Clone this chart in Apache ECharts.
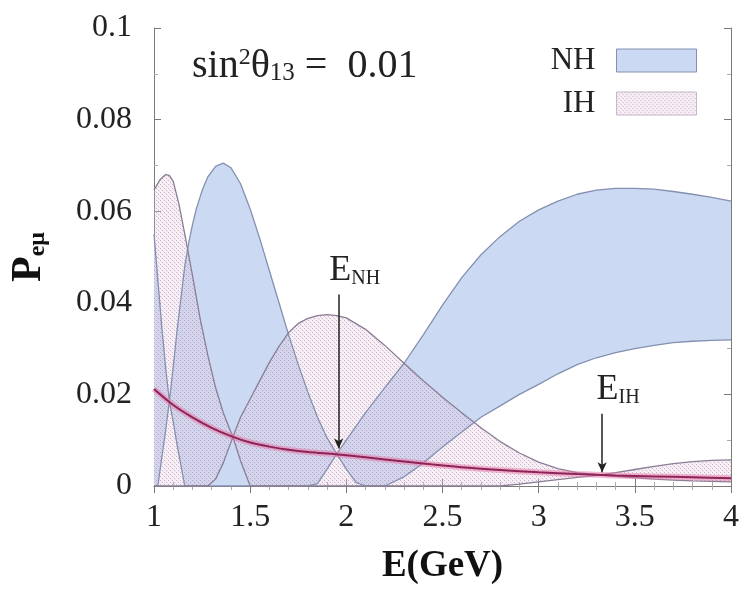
<!DOCTYPE html>
<html><head><meta charset="utf-8">
<script src="https://cdn.jsdelivr.net/npm/echarts@6/dist/echarts.min.js"></script>
<style>html,body{margin:0;padding:0;background:#fff}#c{width:743px;height:592px}</style>
</head><body><div id="c"></div>
<script>
// ---- data ----
const xTicks = ['1','1.5','2','2.5','3','3.5','4'];
const yTicks = ['0','0.02','0.04','0.06','0.08','0.1'];

const E_NH = [1.00,1.02,1.04,1.06,1.08,1.10,1.12,1.14,1.16,1.18,1.20,1.22,1.25,1.28,1.32,1.36,1.40,
  1.45,1.50,1.55,1.60,1.65,1.70,1.75,1.80,1.85,1.90,1.95,2.00,2.05,2.10,
  2.20,2.30,2.40,2.50,2.60,2.70,2.80,2.90,3.00,3.10,3.20,3.30,3.40,3.50,3.60,3.70,3.80,3.90,4.00];
const NH_hi = [0.055,0.045,0.035,0.026,0.0185,0.026,0.034,0.041,0.048,0.053,0.057,0.0605,0.0645,0.0675,0.0698,0.0705,0.0695,
  0.066,0.0605,0.054,0.047,0.040,0.033,0.0265,0.0205,0.0150,0.0105,0.0070,0.0100,0.0130,0.0160,
  0.0215,0.0268,0.0330,0.0395,0.0455,0.0505,0.0545,0.0578,0.0603,0.0622,0.0637,0.0646,0.0650,0.0650,0.0648,0.0643,0.0637,0.0630,0.0622];
const NH_lo = [0,0,0.006,0.012,0.0185,0.014,0.009,0.0045,0,0,0,0,0,0,0,0,0,
  0,0,0,0,0,0,0,0,0.0005,0.0037,0.0070,0.0037,0.0008,0,
  0,0.002,0.005,0.0085,0.0118,0.0150,0.0175,0.0200,0.0222,0.0245,0.0265,0.0280,0.0291,0.0300,0.0307,0.0313,0.0316,0.0318,0.0319];

const E_IH = [1.00,1.03,1.06,1.08,1.10,1.13,1.16,1.20,1.24,1.28,1.32,1.36,1.41,
  1.45,1.50,1.55,1.60,1.65,1.70,1.75,1.80,1.85,1.90,1.95,2.00,
  2.10,2.20,2.30,2.40,2.50,2.60,2.70,2.80,2.90,3.00,3.10,3.20,3.32,3.40,3.50,3.60,3.70,3.80,3.90,4.00];
const IH_hi = [0.0646,0.0668,0.0680,0.0678,0.0665,0.0615,0.0550,0.0460,0.0365,0.0285,0.0215,0.0160,0.0107,
  0.0150,0.0190,0.0230,0.0270,0.0305,0.0335,0.0355,0.0366,0.0372,0.0374,0.0372,0.0367,
  0.0342,0.0307,0.0268,0.0230,0.0194,0.0160,0.0127,0.0097,0.0072,0.0052,0.0038,0.0029,0.0024,0.0029,0.0036,0.0043,0.0049,0.0053,0.0056,0.0057];
const IH_lo = [0,0,0,0,0,0,0,0,0,0,0.0015,0.0050,0.0107,
  0.0055,0,0,0,0,0,0,0,0,0,0,0,
  0,0,0,0,0,0,0,0,0.0004,0.0009,0.0014,0.0019,0.0024,0.0021,0.0018,0.0015,0.0013,0.0011,0.0010,0.0009];

const E_red = [1.0,1.1,1.2,1.3,1.4,1.5,1.6,1.7,1.8,1.9,2.0,2.2,2.4,2.6,2.8,3.0,3.2,3.4,3.6,3.8,4.0];
const P_red = [0.0212,0.0177,0.0150,0.0127,0.0109,0.0095,0.0086,0.0079,0.0074,0.0071,0.0067,0.0058,0.0049,0.0041,0.0035,0.0030,0.0026,0.0023,0.0021,0.0019,0.0017];

// arrows (E, from P, to P)
const arrowNH = [1.96, 0.0418, 0.0082];
const arrowIH = [3.33, 0.0158, 0.0030];

// ---- styling ----
const serif = '"Liberation Serif","DejaVu Serif",serif';
const blueFill = '#cbdaf2';
const blueLine = '#8490b0';
const pinkLine = '#8a7d96';
function makePattern(){
  const c = document.createElement('canvas'); c.width = 4; c.height = 4;
  const g = c.getContext('2d');
  g.fillStyle = 'rgba(236,206,226,0.30)'; g.fillRect(0,0,4,4);
  g.fillStyle = 'rgba(150,118,165,0.50)'; g.fillRect(0,0,1,1); g.fillRect(2,2,1,1);
  g.fillStyle = 'rgba(200,170,200,0.25)'; g.fillRect(1,1,1,1); g.fillRect(3,3,1,1);
  return {image: c, repeat: 'repeat'};
}
const pinkPattern = makePattern();

function bandRender(E, lo, hi, fill){
  return function(params, api){
    if (params.dataIndex !== 0) return null;
    const pts = [];
    for (let i = 0; i < E.length; i++) pts.push(api.coord([E[i], hi[i]]));
    for (let i = E.length - 1; i >= 0; i--) pts.push(api.coord([E[i], lo[i]]));
    return {type:'polygon', shape:{points: pts}, style:{fill: fill, stroke: null}};
  };
}
const zip = (a, b) => a.map((v, i) => [v, b[i]]);
const lineSeries = (name, E, P, color, w, z) => ({
  name, type:'line', data: zip(E, P), symbol:'none', silent:true,
  lineStyle:{color, width:w}, z
});

const axisCol = '#7a7a7a';
const chart = echarts.init(document.getElementById('c'), null, {renderer:'canvas'});
chart.setOption({
  animation:false,
  grid:{left:153, right:12, top:28, bottom:106, containLabel:false},
  xAxis:[{
    type:'value', min:1, max:4, interval:0.5, position:'bottom',
    axisLine:{show:true, lineStyle:{color:axisCol}},
    axisTick:{show:true, inside:true, length:7, lineStyle:{color:axisCol}},
    minorTick:{show:true, splitNumber:5, length:4, lineStyle:{color:'#aaa'}},
    splitLine:{show:false},
    axisLabel:{color:'#222', fontFamily:serif, fontSize:32, margin:16,
      formatter: v => xTicks[Math.round((v - 1) / 0.5)]},
    name:'E(GeV)', nameLocation:'middle', nameGap:62,
    nameTextStyle:{fontFamily:serif, fontWeight:'bold', fontSize:37, color:'#111'}
  },{
    type:'value', min:1, max:4, interval:0.5, position:'top',
    axisLine:{show:true, lineStyle:{color:axisCol}},
    axisTick:{show:true, inside:true, length:7, lineStyle:{color:axisCol}},
    minorTick:{show:true, splitNumber:5, length:4, lineStyle:{color:'#aaa'}},
    splitLine:{show:false}, axisLabel:{show:false}
  }],
  yAxis:[{
    type:'value', min:0, max:0.1, interval:0.02, position:'left',
    axisLine:{show:true, lineStyle:{color:axisCol}},
    axisTick:{show:true, inside:true, length:7, lineStyle:{color:axisCol}},
    minorTick:{show:true, splitNumber:2, length:4, lineStyle:{color:'#aaa'}},
    splitLine:{show:false},
    axisLabel:{color:'#222', fontFamily:serif, fontSize:32, margin:22,
      formatter: v => yTicks[Math.round(v / 0.02)]},
    name:'{p|P}{s|eμ}', nameLocation:'middle', nameGap:104,
    nameTextStyle:{rich:{
      p:{fontFamily:serif, fontWeight:'bold', fontSize:42, color:'#111'},
      s:{fontFamily:serif, fontWeight:'bold', fontSize:24, color:'#111', verticalAlign:'bottom'}
    }}
  },{
    type:'value', min:0, max:0.1, interval:0.02, position:'right',
    axisLine:{show:true, lineStyle:{color:axisCol}},
    axisTick:{show:true, inside:true, length:7, lineStyle:{color:axisCol}},
    minorTick:{show:true, splitNumber:2, length:4, lineStyle:{color:'#aaa'}},
    splitLine:{show:false}, axisLabel:{show:false}
  }],
  legend:{
    orient:'vertical', right:46, top:45, itemWidth:80, itemHeight:23, itemGap:12,
    align:'right', padding:0, selectedMode:false,
    textStyle:{fontFamily:serif, fontSize:31, color:'#222', padding:[0,16,0,0]},
    data:[
      {name:'NH', icon:'rect', itemStyle:{color:blueFill, borderColor:blueLine, borderWidth:1}},
      {name:'IH', icon:'rect', itemStyle:{color:pinkPattern, borderColor:'#c7b8c8', borderWidth:1}}
    ]
  },
  graphic:[{
    type:'text', left:192, top:46, silent:true,
    style:{
      text:'{a|sin}{p|2}{a|θ}{b|13}{a| =  0.01}',
      rich:{
        a:{fontFamily:serif, fontSize:40, fill:'#222'},
        p:{fontFamily:serif, fontSize:24, fill:'#222', verticalAlign:'top'},
        b:{fontFamily:serif, fontSize:25, fill:'#222', verticalAlign:'bottom'}
      }
    }
  }],
  series:[
    {name:'NH', type:'custom', silent:true, z:1,
     data: E_NH.map((e, i) => [e, NH_lo[i], NH_hi[i]]), encode:{x:0, y:[1,2]},
     itemStyle:{color:blueFill},
     renderItem: bandRender(E_NH, NH_lo, NH_hi, blueFill)},
    {name:'IH', type:'custom', silent:true, z:2,
     data: E_IH.map((e, i) => [e, IH_lo[i], IH_hi[i]]), encode:{x:0, y:[1,2]},
     itemStyle:{color:pinkPattern},
     renderItem: bandRender(E_IH, IH_lo, IH_hi, pinkPattern)},
    lineSeries('NH upper', E_NH, NH_hi, blueLine, 1.3, 3),
    lineSeries('NH lower', E_NH, NH_lo, blueLine, 1.3, 3),
    lineSeries('IH upper', E_IH, IH_hi, pinkLine, 1.3, 3),
    lineSeries('IH lower', E_IH, IH_lo, pinkLine, 1.3, 3),
    Object.assign(lineSeries('red band', E_red, P_red, 'rgba(232,120,165,0.5)', 6, 4), {smooth:0.3}),
    Object.assign(lineSeries('red', E_red, P_red, '#8e2358', 2, 5), {smooth:0.3,
      markLine:{
        silent:true, symbol:['none','arrow'], symbolSize:[7,10], animation:false,
        lineStyle:{color:'#222', width:1.5, type:'solid'},
        label:{show:true, position:'start', distance:6, padding:[0,0,0,32],
          rich:{
            e:{fontFamily:serif, fontSize:36, color:'#222'},
            s:{fontFamily:serif, fontSize:20, color:'#222', verticalAlign:'bottom'}
          }},
        data:[
          [{coord:[arrowNH[0], arrowNH[1]], label:{formatter:'{e|E}{s|NH}'}}, {coord:[arrowNH[0], arrowNH[2]]}],
          [{coord:[arrowIH[0], arrowIH[1]], label:{formatter:'{e|E}{s|IH}'}}, {coord:[arrowIH[0], arrowIH[2]]}]
        ]
      }})
  ]
});
</script>
</body></html>
